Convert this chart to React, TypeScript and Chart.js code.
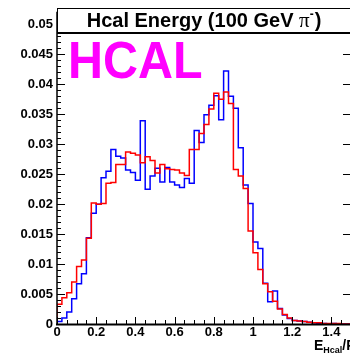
import React, { useEffect, useRef } from "react";
import { Chart, registerables } from "chart.js";

Chart.register(...registerables);

// ---- data ----
const binWidth = 0.025;
const xMin = 0;
const xMax = 1.5;
const yMin = 0;
const yMax = 0.0521;
const xTickStep = 0.2;
const xMinorStep = 0.05;
const yTickStep = 0.005;
const yMinorStep = 0.001;

const redValues = [
  0.0033, 0.0044, 0.0052, 0.007, 0.0096, 0.0107, 0.0143, 0.0202, 0.02, 0.0201,
  0.0235, 0.0236, 0.0266, 0.0266, 0.0287, 0.0285, 0.0282, 0.0269, 0.0279, 0.0273,
  0.0252, 0.0266, 0.0259, 0.0258, 0.0257, 0.0252, 0.0248, 0.0291, 0.0291, 0.0318,
  0.0333, 0.0359, 0.0385, 0.0375, 0.0387, 0.0368, 0.0258, 0.0247, 0.0226, 0.0155,
  0.0119, 0.0091, 0.0067, 0.0054, 0.0038, 0.0025, 0.0016, 0.001, 0.0006, 0.0005,
  0.0004, 0.0003, 0.0002, 0.0002, 0.0001, 0.0001, 0.0001, 0.0001, 0.0, 0.0,
];

const blueValues = [
  0.0004, 0.001, 0.002, 0.0042, 0.0067, 0.0084, 0.0144, 0.0185, 0.02, 0.0244,
  0.0255, 0.0291, 0.028, 0.0277, 0.0257, 0.0253, 0.024, 0.0339, 0.0225, 0.0247,
  0.026, 0.0237, 0.0261, 0.0237, 0.0232, 0.0228, 0.0243, 0.0235, 0.0323, 0.0303,
  0.0349, 0.0365, 0.0381, 0.0341, 0.0422, 0.038, 0.036, 0.0294, 0.0232, 0.0201,
  0.0137, 0.0126, 0.0068, 0.0037, 0.0055, 0.0026, 0.0015, 0.0009, 0.0006, 0.0005,
  0.0004, 0.0003, 0.0002, 0.0001, 0.0001, 0.0, 0.0001, 0.0, 0.0, 0.0,
];

const titleMain = "Hcal Energy (100 GeV ";
const titlePi = "\u03c0";
const titleSup = "-";
const titleEnd = ")";
const stampText = "HCAL";
const xTitleMain = "E";
const xTitleSub = "Hcal";
const xTitleEnd = "/P";

const FONT = '"Liberation Sans", Arial, Helvetica, sans-serif';

function outline(values: number[]) {
  const pts: { x: number; y: number }[] = [{ x: xMin, y: 0 }];
  values.forEach((v, i) => {
    pts.push({ x: xMin + i * binWidth, y: v });
    pts.push({ x: xMin + (i + 1) * binWidth, y: v });
  });
  return pts;
}

function fmt(v: number, d: number) {
  return String(Number(v.toFixed(d)));
}

const decorPlugin = {
  id: "rootDecor",
  afterDatasetsDraw(chart: any) {
    const ctx: CanvasRenderingContext2D = chart.ctx;
    const xs = chart.scales.x;
    const ys = chart.scales.y;
    const { left, right, top, bottom } = chart.chartArea;
    ctx.save();

    // HCAL stamp
    ctx.save();
    ctx.fillStyle = "#ff00ff";
    ctx.font = `bold 51px ${FONT}`;
    ctx.textBaseline = "alphabetic";
    ctx.translate(68, 78.3);
    ctx.scale(0.95, 1);
    ctx.fillText(stampText, 0, 0);
    ctx.restore();

    // ticks
    ctx.strokeStyle = "#000";
    ctx.lineWidth = 1;
    const line = (x1: number, y1: number, x2: number, y2: number) => {
      ctx.beginPath();
      ctx.moveTo(x1, y1);
      ctx.lineTo(x2, y2);
      ctx.stroke();
    };
    const nY = Math.round((yMax - yMin) / yMinorStep);
    const perY = Math.round(yTickStep / yMinorStep);
    for (let k = 0; k <= nY; k++) {
      const v = yMin + k * yMinorStep;
      const py = Math.round(ys.getPixelForValue(v)) + 0.5;
      const major = k % perY === 0;
      line(left, py, left + (major ? 8 : 4), py);
      if (major) line(right - 8, py, right, py);
    }
    const nX = Math.round((xMax - xMin) / xMinorStep);
    const perX = Math.round(xTickStep / xMinorStep);
    for (let k = 0; k <= nX; k++) {
      const v = xMin + k * xMinorStep;
      const px = Math.round(xs.getPixelForValue(v)) + 0.5;
      const major = k % perX === 0;
      line(px, bottom, px, bottom - (major ? 7 : 4));
    }

    // frame
    ctx.lineWidth = 1.5;
    line(left, top, left, bottom);
    ctx.lineWidth = 1;
    line(right - 0.5, top, right - 0.5, bottom);
    ctx.lineWidth = 2;
    line(left - 1, bottom + 0.5, right, bottom + 0.5);

    // title box
    const boxTop = 8;
    const boxBottom = 33;
    ctx.fillStyle = "#fff";
    ctx.fillRect(left, boxTop, chart.width - left, boxBottom - boxTop);
    ctx.lineWidth = 1;
    ctx.strokeStyle = "#000";
    line(left, boxTop + 0.5, chart.width, boxTop + 0.5);
    line(left + 0.5, boxTop, left + 0.5, boxBottom);
    ctx.lineWidth = 2;
    line(left, boxBottom, chart.width, boxBottom);

    // title text
    const fMain = `bold 20px ${FONT}`;
    const fPi = `21px "Liberation Serif", "DejaVu Serif", serif`;
    const fSup = `bold 12px ${FONT}`;
    ctx.font = fMain;
    const w1 = ctx.measureText(titleMain).width;
    const w4 = ctx.measureText(titleEnd).width;
    ctx.font = fPi;
    const w2 = ctx.measureText(titlePi).width;
    ctx.font = fSup;
    const w3 = ctx.measureText(titleSup).width + 1;
    const total = w1 + w2 + w3 + w4;
    let tx = (left + right) / 2 - total / 2;
    const base = 27;
    ctx.fillStyle = "#000";
    ctx.textBaseline = "alphabetic";
    ctx.textAlign = "left";
    ctx.font = fMain;
    ctx.fillText(titleMain, tx, base);
    tx += w1;
    ctx.font = fPi;
    ctx.fillText(titlePi, tx, base);
    tx += w2;
    ctx.font = fSup;
    ctx.fillText(titleSup, tx, base - 9);
    tx += w3;
    ctx.font = fMain;
    ctx.fillText(titleEnd, tx, base);

    // x axis title
    let ax = 315;
    ctx.font = `bold 14px ${FONT}`;
    ctx.fillText(xTitleMain, ax - 1, 350);
    ax += ctx.measureText(xTitleMain).width - 1;
    ctx.font = `bold 9px ${FONT}`;
    ctx.fillText(xTitleSub, ax, 352.5);
    ax += ctx.measureText(xTitleSub).width;
    ctx.font = `bold 14px ${FONT}`;
    ctx.fillText(xTitleEnd, ax, 350);

    ctx.restore();
  },
};

export default function App() {
  const ref = useRef<HTMLCanvasElement | null>(null);
  useEffect(() => {
    if (!ref.current) return;
    const tickFont = { family: FONT, size: 13, weight: "bold" as const };
    const chart = new Chart(ref.current, {
      type: "line",
      data: {
        datasets: [
          {
            data: outline(redValues),
            borderColor: "rgb(255,0,0)",
            borderWidth: 1.5,
            pointRadius: 0,
            fill: false,
            tension: 0,
          },
          {
            data: outline(blueValues),
            borderColor: "rgb(0,0,255)",
            borderWidth: 1.5,
            pointRadius: 0,
            fill: false,
            tension: 0,
          },
        ],
      },
      options: {
        animation: false,
        responsive: false,
        events: [],
        layout: { padding: { top: 8, right: 1, left: 0, bottom: 0 } },
        plugins: {
          legend: { display: false },
          tooltip: { enabled: false },
          title: { display: false },
        },
        scales: {
          x: {
            type: "linear",
            min: xMin,
            max: xMax,
            grid: { display: false, drawTicks: false },
            border: { display: false },
            ticks: {
              stepSize: xTickStep,
              includeBounds: false,
              autoSkip: false,
              maxRotation: 0,
              padding: 1,
              color: "#000",
              font: tickFont,
              callback: (v: any) => fmt(Number(v), 1),
            },
            afterFit: (s: any) => {
              s.height = 33;
            },
          },
          y: {
            type: "linear",
            min: yMin,
            max: yMax,
            grid: { display: false, drawTicks: false },
            border: { display: false },
            ticks: {
              stepSize: yTickStep,
              includeBounds: false,
              autoSkip: false,
              padding: 4,
              color: "#000",
              font: tickFont,
              callback: (v: any) => fmt(Number(v), 3),
            },
            afterFit: (s: any) => {
              s.width = 57;
            },
          },
        },
      },
      plugins: [decorPlugin],
    });
    return () => chart.destroy();
  }, []);

  return (
    <div
      style={{
        position: "fixed",
        left: 0,
        top: 0,
        width: 350,
        height: 357,
        overflow: "hidden",
        background: "#fff",
      }}
    >
      <canvas ref={ref} width={352} height={357} style={{ display: "block" }} />
    </div>
  );
}
